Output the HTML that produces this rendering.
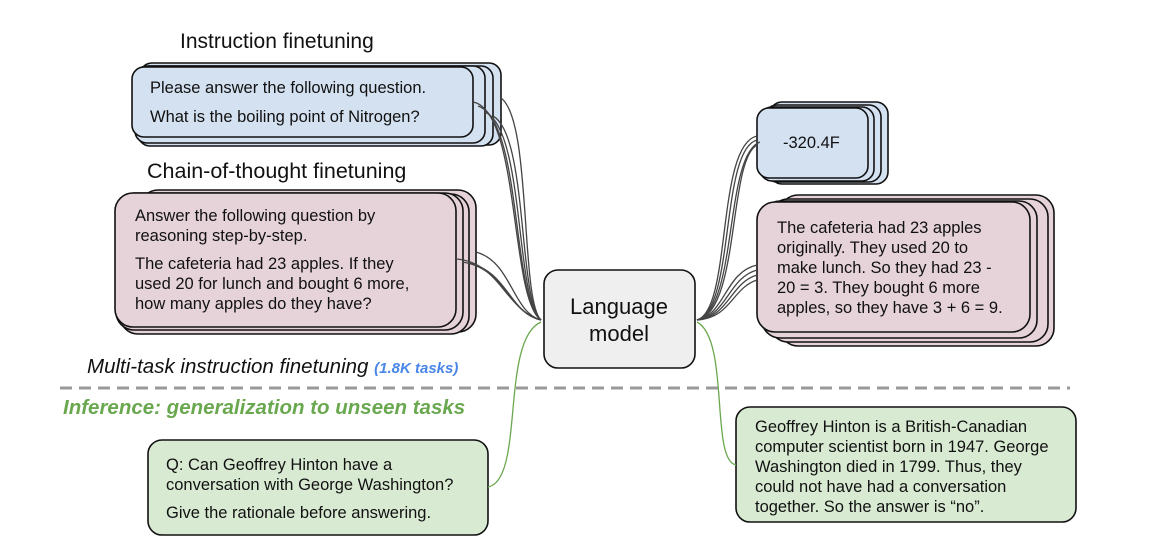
<!DOCTYPE html>
<html><head><meta charset="utf-8"><style>
body{margin:0;background:#fff;}
svg{display:block;font-family:"Liberation Sans",sans-serif;}
.t{font-size:16.5px;fill:#111;}
</style></head><body>
<svg width="1160" height="558" viewBox="0 0 1160 558" xmlns="http://www.w3.org/2000/svg">
<g stroke="#111" stroke-width="1.6">
<rect x="140" y="63" width="361" height="82" rx="12" fill="#d4e1f1"/>
<rect x="138" y="66" width="355" height="80" rx="12" fill="#d4e1f1"/>
<rect x="135" y="66" width="350" height="77" rx="12" fill="#d4e1f1"/>
<rect x="132" y="67" width="341" height="70" rx="12" fill="#d4e1f1"/>
<rect x="140" y="190" width="336" height="142" rx="18" fill="#e6d3da"/>
<rect x="120" y="194" width="349" height="140" rx="18" fill="#e6d3da"/>
<rect x="116" y="193" width="347" height="137" rx="18" fill="#e6d3da"/>
<rect x="115" y="193" width="341" height="134" rx="18" fill="#e6d3da"/>
<rect x="770" y="102" width="118" height="82" rx="12" fill="#d4e1f1"/>
<rect x="765" y="105" width="116" height="77" rx="12" fill="#d4e1f1"/>
<rect x="760" y="107" width="114" height="74" rx="12" fill="#d4e1f1"/>
<rect x="757" y="108" width="111" height="70" rx="12" fill="#d4e1f1"/>
<rect x="780" y="195" width="274" height="151" rx="18" fill="#e6d3da"/>
<rect x="770" y="199" width="278" height="143" rx="18" fill="#e6d3da"/>
<rect x="762" y="201" width="275" height="137" rx="18" fill="#e6d3da"/>
<rect x="757" y="202" width="273" height="130" rx="18" fill="#e6d3da"/>
<rect x="544" y="270" width="151" height="98" rx="14" fill="#efefef"/>
<rect x="148" y="440" width="340" height="95" rx="14" fill="#d9ead3"/>
<rect x="736" y="407" width="340" height="115" rx="14" fill="#d9ead3"/>
</g>
<g fill="none" stroke="#444" stroke-width="1.3">
<path d="M473,102 C520,110 510,300 541,320"/>
<path d="M478,106 C522,120 512,300 541,320"/>
<path d="M485,112 C525,130 515,300 541,320"/>
<path d="M493,116 C528,135 518,300 541,320"/>
<path d="M501,98 C532,120 520,300 541,320"/>
<path d="M456,259 C500,262 505,310 541,320"/>
<path d="M462,262 C505,268 508,312 541,320"/>
<path d="M469,263 C508,272 510,314 541,320"/>
<path d="M476,252 C512,262 512,312 541,320"/>
<path d="M757,140 C720,150 735,310 697,320"/>
<path d="M760,142 C724,155 738,310 697,320"/>
<path d="M757,145 C728,160 740,312 697,320"/>
<path d="M757,136 C716,145 732,310 697,320"/>
<path d="M757,265 C725,272 725,315 697,320"/>
<path d="M757,270 C728,278 727,316 697,320"/>
<path d="M757,275 C730,283 729,317 697,320"/>
<path d="M757,280 C732,288 731,318 697,320"/>
</g>
<g fill="none" stroke="#6aa84f" stroke-width="1.3">
<path d="M541,322 C500,340 525,480 488,487"/>
<path d="M697,322 C730,340 710,460 736,465"/>
</g>
<line x1="60" y1="388" x2="1070" y2="388" stroke="#999" stroke-width="3" stroke-dasharray="12,7"/>
<text x="180" y="48" font-size="21" fill="#111">Instruction finetuning</text>
<text x="147" y="178" font-size="21.5" fill="#111">Chain-of-thought finetuning</text>
<text x="87" y="373" font-size="20.5" font-style="italic" fill="#111">Multi-task instruction finetuning <tspan font-size="15" font-weight="bold" fill="#4a86e8">(1.8K tasks)</tspan></text>
<text x="63" y="414" font-size="20.5" font-style="italic" font-weight="bold" fill="#6aa84f">Inference: generalization to unseen tasks</text>
<text class="t" x="150" y="93" font-size="17">Please answer the following question.</text>
<text class="t" x="150" y="122">What is the boiling point of Nitrogen?</text>
<text class="t" x="135" y="221">Answer the following question by</text>
<text class="t" x="135" y="241">reasoning step-by-step.</text>
<text class="t" x="135" y="269">The cafeteria had 23 apples. If they</text>
<text class="t" x="135" y="289">used 20 for lunch and bought 6 more,</text>
<text class="t" x="135" y="309">how many apples do they have?</text>
<text class="t" x="783" y="148">-320.4F</text>
<text class="t" x="777" y="233">The cafeteria had 23 apples</text>
<text class="t" x="777" y="253">originally. They used 20 to</text>
<text class="t" x="777" y="273">make lunch. So they had 23 -</text>
<text class="t" x="777" y="293">20 = 3. They bought 6 more</text>
<text class="t" x="777" y="313">apples, so they have 3 + 6 = 9.</text>
<text x="619" y="314" font-size="22" text-anchor="middle" fill="#111">Language</text>
<text x="619" y="341" font-size="22" text-anchor="middle" fill="#111">model</text>
<text class="t" x="166" y="470">Q: Can Geoffrey Hinton have a</text>
<text class="t" x="166" y="490">conversation with George Washington?</text>
<text class="t" x="166" y="518">Give the rationale before answering.</text>
<text class="t" x="755" y="432">Geoffrey Hinton is a British-Canadian</text>
<text class="t" x="755" y="452">computer scientist born in 1947. George</text>
<text class="t" x="755" y="472">Washington died in 1799. Thus, they</text>
<text class="t" x="755" y="492">could not have had a conversation</text>
<text class="t" x="755" y="512">together. So the answer is “no”.</text>
</svg>
</body></html>
